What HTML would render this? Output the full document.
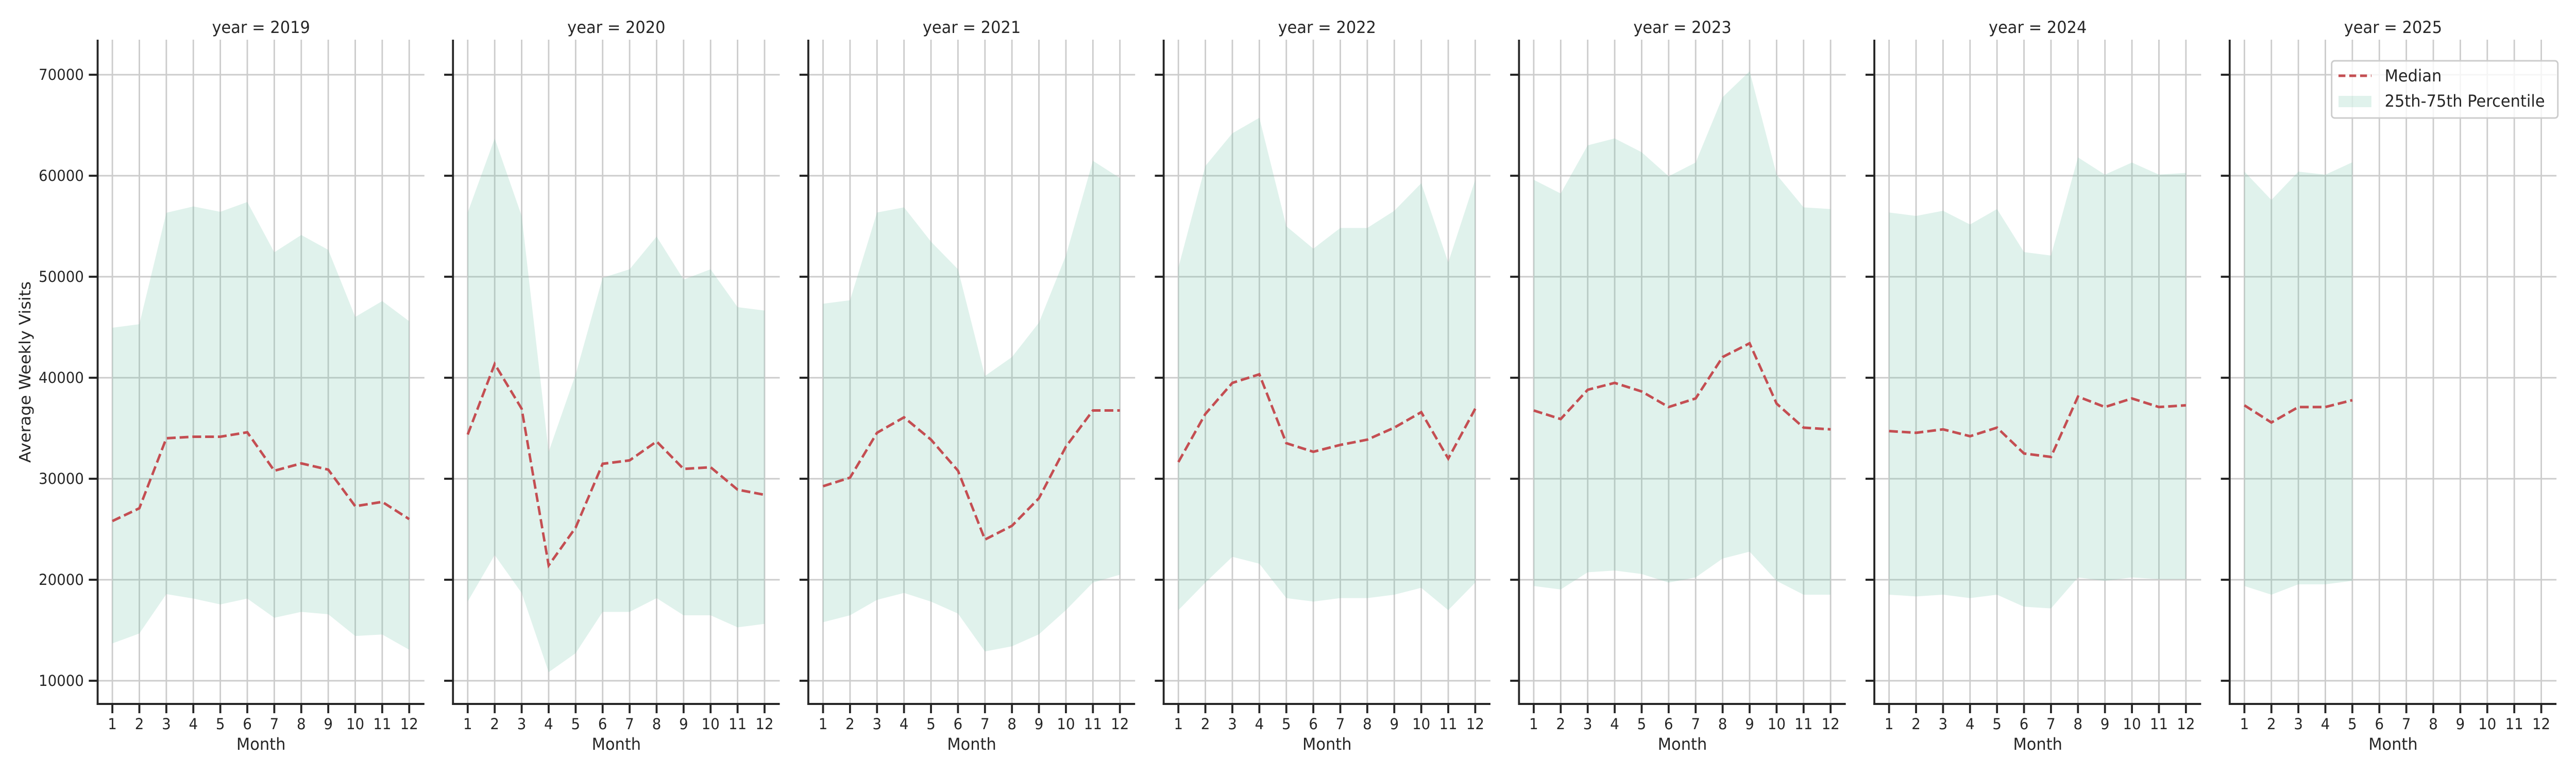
<!DOCTYPE html>
<html><head><meta charset="utf-8"><style>
html,body{margin:0;padding:0;background:#fff;overflow:hidden;width:100%;height:100%}
svg{display:block;font-family:"DejaVu Sans","Liberation Sans",sans-serif;width:100vw;height:100vh}
</style></head><body>
<svg id="chart" viewBox="0 0 5250 1500" preserveAspectRatio="none" xmlns="http://www.w3.org/2000/svg"></svg>
<script>
const years = [2019,2020,2021,2022,2023,2024,2025];
const months = [1,2,3,4,5,6,7,8,9,10,11,12];
const yTicks = [10000,20000,30000,40000,50000,60000,70000];
const median2019 = [25810,27080,34010,34160,34160,34600,30790,31520,30900,27280,27710,26000];
const upper2019 = [44950,45300,56330,56960,56430,57400,52420,54130,52660,46020,47590,45590];
const lower2019 = [13700,14680,18580,18140,17560,18140,16240,16820,16580,14430,14580,13070];
const median2020 = [34380,41360,36930,21420,25170,31480,31820,33690,30970,31140,28920,28410];
const upper2020 = [56360,63690,56020,32670,40340,49890,50740,53980,49720,50740,46990,46650];
const lower2020 = [17840,22440,18690,10850,12730,16820,16820,18180,16480,16480,15290,15630];
const median2021 = [29260,30110,34550,36080,33870,30800,23980,25340,28070,33180,36760,36760];
const upper2021 = [47330,47670,56360,56870,53470,50740,40170,42050,45450,52100,61480,59770];
const lower2021 = [15800,16480,18010,18690,17840,16650,12900,13410,14600,16990,19720,20500];
const median2022 = [31650,36420,39490,40340,33520,32670,33350,33870,35060,36590,31990,36930];
const upper2022 = [50910,60970,64200,65740,55000,52780,54830,54830,56530,59260,51420,59600];
const lower2022 = [16990,19720,22270,21590,18180,17840,18180,18180,18520,19200,16990,19720];
const median2023 = [36760,35910,38810,39490,38640,37100,37950,42050,43410,37440,35060,34890];
const upper2023 = [59600,58240,63010,63690,62330,59940,61310,67780,70340,60110,56870,56700];
const lower2023 = [19380,19040,20740,20910,20570,19720,20230,22100,22780,19890,18520,18520];
const median2024 = [34720,34550,34890,34210,35060,32500,32160,38130,37100,37950,37100,37270];
const upper2024 = [56360,56020,56530,55170,56700,52440,52100,61820,60110,61310,60110,60280];
const lower2024 = [18520,18350,18520,18180,18520,17330,17160,20230,19890,20230,20060,20060];
const median2025 = [37270,35570,37100,37100,37780];
const upper2025 = [60410,57600,60410,60100,61330];
const lower2025 = [19380,18520,19550,19550,19890];
const medians = [median2019,median2020,median2021,median2022,median2023,median2024,median2025];
const uppers = [upper2019,upper2020,upper2021,upper2022,upper2023,upper2024,upper2025];
const lowers = [lower2019,lower2020,lower2021,lower2022,lower2023,lower2024,lower2025];

const NS="http://www.w3.org/2000/svg";
const svg=document.getElementById('chart');
function mk(tag,attrs,parent){const e=document.createElementNS(NS,tag);for(const k in attrs)e.setAttribute(k,attrs[k]);(parent||svg).appendChild(e);return e;}
const PW=666, STEP=724.2, X0=199, TOP=77, BOT=1366;
function yScale(v){return 145+(70000-v)*0.0196;}
function xScale(p,m){return X0+p*STEP+30+(m-1)*55;}

years.forEach((yr,p)=>{
  const g=mk('g',{});
  
  
  const left=X0+p*STEP;
  yTicks.forEach(t=>{
    const l=mk('line',{x1:left,x2:left+PW,y1:yScale(t),y2:yScale(t),stroke:'#cccccc','stroke-width':3},g);
    
    
  });
  months.forEach(m=>{
    const l=mk('line',{x1:xScale(p,m),x2:xScale(p,m),y1:TOP,y2:BOT,stroke:'#cccccc','stroke-width':3},g);
    
    
  });
  const up=uppers[p], lo=lowers[p], md=medians[p];
  let pts=up.map((v,i)=>xScale(p,i+1)+','+yScale(v));
  for(let i=lo.length-1;i>=0;i--)pts.push(xScale(p,i+1)+','+yScale(lo[i]));
  const band=mk('polygon',{points:pts.join(' '),fill:'rgb(114,194,170)','fill-opacity':0.22},g);
  
  
  const line=mk('polyline',{points:md.map((v,i)=>xScale(p,i+1)+','+yScale(v)).join(' '),fill:'none',stroke:'#c44e52','stroke-width':5,'stroke-dasharray':'18,8'},g);
  
  
  const ax=mk('line',{x1:left,x2:left,y1:TOP,y2:BOT+2,stroke:'#262626','stroke-width':4},g);
  
  
  const bx=mk('line',{x1:left-2,x2:left+PW,y1:BOT,y2:BOT,stroke:'#262626','stroke-width':4},g);
  
  
  yTicks.forEach(t=>{
    const tk=mk('line',{x1:left-18,x2:left,y1:yScale(t),y2:yScale(t),stroke:'#262626','stroke-width':4},g);
    
    
    if(p===0){
      const tx=mk('text',{x:left-28,y:yScale(t)+10,'text-anchor':'end','font-size':29,fill:'#262626'},g);
      tx.textContent=t;
      
      
    }
  });
  months.forEach(m=>{
    const tk=mk('line',{x1:xScale(p,m),x2:xScale(p,m),y1:BOT,y2:BOT+18,stroke:'#262626','stroke-width':4},g);
    
    
    const tx=mk('text',{x:xScale(p,m),y:1415,'text-anchor':'middle','font-size':29,fill:'#262626'},g);
    tx.textContent=m;
    
    
  });
  const xl=mk('text',{x:left+PW/2,y:1455,'text-anchor':'middle','font-size':32,fill:'#262626'},g);
  xl.textContent='Month';
  
  
  const tt=mk('text',{x:left+PW/2,y:64,'text-anchor':'middle','font-size':32,fill:'#262626'},g);
  tt.textContent='year = '+yr;
  
  
});
const yl=mk('text',{x:0,y:0,'text-anchor':'middle','font-size':32,fill:'#262626',transform:'translate(62,722) rotate(-90)'});
yl.textContent='Average Weekly Visits';


const lg=mk('g',{});


const lb=mk('rect',{x:4752,y:118,width:461,height:111,rx:6,fill:'#ffffff','fill-opacity':0.8,stroke:'#cccccc','stroke-width':3},lg);


const ls=mk('line',{x1:4766,x2:4833,y1:147,y2:147,stroke:'#c44e52','stroke-width':5,'stroke-dasharray':'14,8'},lg);


const lt1=mk('text',{x:4860,y:158,'font-size':32,fill:'#262626'},lg);
lt1.textContent='Median';


const lp=mk('rect',{x:4766,y:186,width:67,height:22,fill:'rgb(114,194,170)','fill-opacity':0.22},lg);


const lt2=mk('text',{x:4860,y:207,'font-size':32,fill:'#262626'},lg);
lt2.textContent='25th-75th Percentile';


</script>
</body></html>
